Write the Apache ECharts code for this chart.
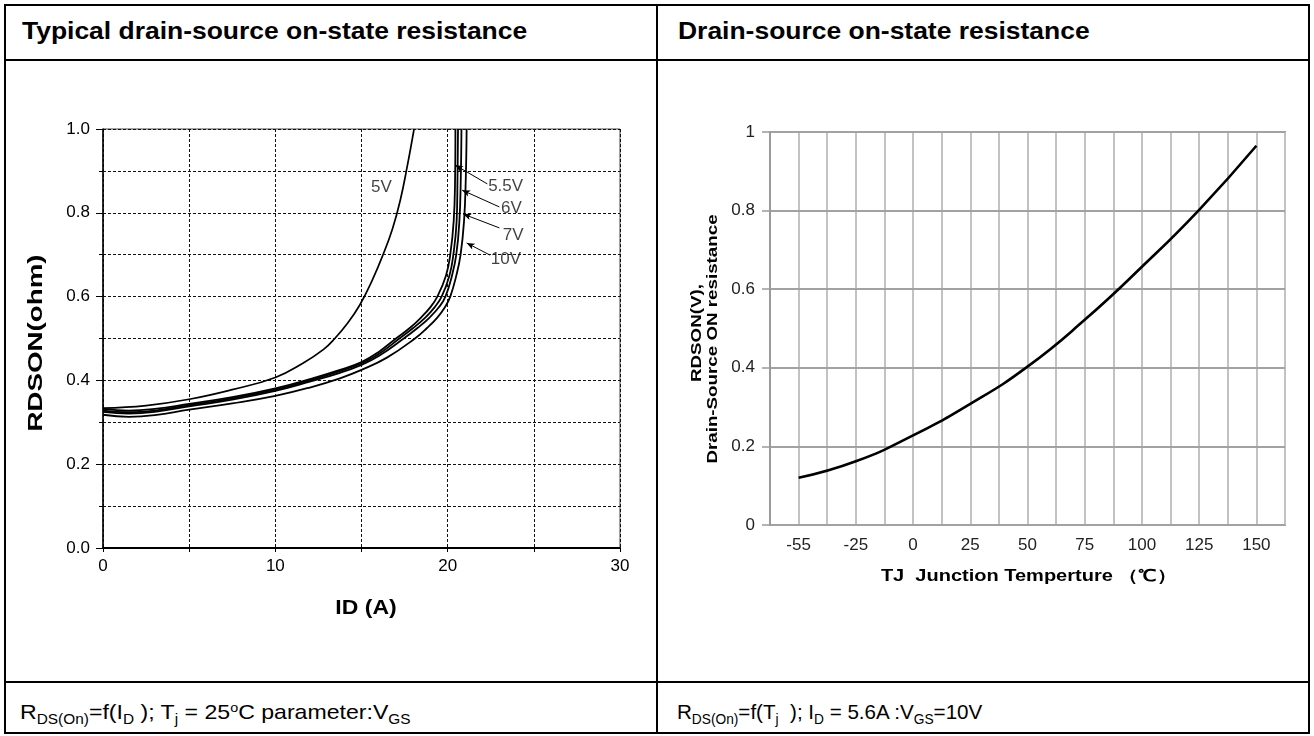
<!DOCTYPE html>
<html lang="en">
	<head>
		<meta charset="UTF-8">
		<title>RDSON curves</title>
		<script src="https://cdn.jsdelivr.net/npm/echarts@6/dist/echarts.min.js"></script>
		<style>
			body { margin: 0; background: #fff; font-family: 'Liberation Sans', Arial, sans-serif; }
			#page { position: relative; width: 1314px; height: 736px; overflow: hidden; }
			.ln { position: absolute; background: #000; }
			.head { position: absolute; top: 18px; font-size: 23px; line-height: 26px; font-weight: bold; color: #000; transform-origin: 0 50%; white-space: nowrap; }
			.foot { position: absolute; top: 700px; font-size: 21px; line-height: 24px; color: #000; transform-origin: 0 50%; white-space: nowrap; }
			.foot sub { font-size: 14px; vertical-align: -5px; line-height: 0; }
			.foot sup { font-size: 13px; vertical-align: 7px; line-height: 0; }
			#myChart { position: absolute; left: 0; top: 0; width: 1314px; height: 736px; }
		</style>
	</head>
	<body>
		<div id="page">
			<div class="ln" style="left:4px;top:4px;width:1306px;height:2px"></div>
			<div class="ln" style="left:4px;top:732px;width:1306px;height:2px"></div>
			<div class="ln" style="left:4px;top:4px;width:2px;height:730px"></div>
			<div class="ln" style="left:1308px;top:4px;width:2px;height:730px"></div>
			<div class="ln" style="left:656px;top:4px;width:2px;height:730px"></div>
			<div class="ln" style="left:4px;top:59px;width:1306px;height:2px"></div>
			<div class="ln" style="left:4px;top:681px;width:1306px;height:2px"></div>
			<div class="head" style="left:22px;transform:scaleX(1.15)">Typical drain-source on-state resistance</div>
			<div class="head" style="left:678px;transform:scaleX(1.15)">Drain-source on-state resistance</div>
			<div class="foot" style="left:20px;transform:scaleX(1.1)">R<sub>DS(On)</sub>=f(I<sub>D</sub> ); T<sub>j</sub> = 25<sup>o</sup>C parameter:V<sub>GS</sub></div>
			<div class="foot" style="left:677px;transform:scaleX(0.98)">R<sub>DS(On)</sub>=f(T<sub>j</sub> &nbsp;); I<sub>D</sub> = 5.6A :V<sub>GS</sub>=10V</div>
			<div id="myChart"></div>
		</div>
		<script type="text/javascript">
			// 左图：RDSON - ID，每条曲线为 [ID, RDSON]
			var curve5V = [[0, 0.334], [2.5, 0.34], [5, 0.355], [7.5, 0.378], [10, 0.407], [11.6, 0.441], [12.8, 0.474], [13.45, 0.5], [14.2, 0.537], [14.9, 0.58], [15.6, 0.637], [16.25, 0.7], [16.8, 0.762], [17.25, 0.83], [17.65, 0.91], [18.05, 1.0]];
			var curve5V5 = [[0, 0.332], [1.5, 0.328], [3, 0.332], [5, 0.344], [7.5, 0.36], [10, 0.381], [12, 0.403], [13.75, 0.425], [15, 0.444], [16, 0.468], [17, 0.5], [17.8, 0.525], [18.45, 0.55], [19.0, 0.575], [19.4, 0.6], [19.9, 0.65], [20.15, 0.7], [20.35, 0.78], [20.43, 0.88], [20.45, 1.0]];
			var curve6V = [[0, 0.328], [1.5, 0.324], [3, 0.328], [5, 0.341], [7.5, 0.357], [10, 0.378], [12, 0.4], [13.75, 0.422], [15, 0.441], [16, 0.463], [17.2, 0.5], [18.0, 0.525], [18.7, 0.55], [19.25, 0.575], [19.65, 0.6], [20.1, 0.65], [20.33, 0.7], [20.52, 0.78], [20.57, 0.88], [20.6, 1.0]];
			var curve7V = [[0, 0.325], [1.5, 0.321], [3, 0.325], [5, 0.338], [7.5, 0.354], [10, 0.375], [12, 0.397], [13.75, 0.418], [15, 0.437], [16, 0.458], [17.45, 0.5], [18.25, 0.525], [18.95, 0.55], [19.5, 0.575], [19.87, 0.6], [20.25, 0.65], [20.5, 0.7], [20.68, 0.78], [20.76, 0.88], [20.8, 1.0]];
			var curve10V = [[0, 0.318], [1.5, 0.313], [3, 0.317], [5, 0.33], [7.5, 0.345], [10, 0.363], [12, 0.383], [13.75, 0.405], [15, 0.425], [16.5, 0.455], [18.1, 0.5], [18.8, 0.525], [19.4, 0.55], [19.85, 0.575], [20.15, 0.6], [20.5, 0.65], [20.75, 0.7], [20.95, 0.78], [21.05, 0.88], [21.1, 1.0]];
			var curveNames = ['5V', '5.5V', '6V', '7V', '10V'];
			// 标注：文字位置 + 箭头（从曲线到文字）
			var noteText = [[15.55, 0.862], [22.35, 0.864], [23.1, 0.811], [23.2, 0.747], [22.5, 0.69]];
			var noteArrows = [
				[[20.43, 0.914], [22.3, 0.869]],
				[[20.84, 0.854], [23.0, 0.814]],
				[[20.9, 0.797], [23.0, 0.764]],
				[[21.1, 0.728], [22.46, 0.699]]
			];

			// 右图：RDSON - TJ
			var tempLabels = ['-55', '-25', '0', '25', '50', '75', '100', '125', '150'];
			var rdsTemp = [0.12, 0.162, 0.228, 0.308, 0.403, 0.522, 0.657, 0.802, 0.965];

			var dashLine = { show: true, lineStyle: { color: '#111', width: 1, type: [3, 2] } };

			var leftSeries = [curve5V, curve5V5, curve6V, curve7V, curve10V].map(function (d, i) {
				return {
					name: curveNames[i],
					type: 'line',
					xAxisIndex: 0,
					yAxisIndex: 0,
					data: d,
					smooth: 0.45,
					showSymbol: false,
					lineStyle: { color: '#000', width: i == 0 ? 1.7 : 1.8 },
					z: 3
				};
			});

			// 标注文字
			leftSeries.push({
				type: 'scatter',
				xAxisIndex: 0,
				yAxisIndex: 0,
				symbolSize: 0,
				data: noteText.map(function (p, i) {
					return { value: p, name: curveNames[i] };
				}),
				label: {
					show: true,
					position: 'right',
					distance: 0,
					formatter: '{b}',
					color: '#111',
					fontSize: 17,
					fontFamily: 'Liberation Sans'
				},
				silent: true,
				markLine: {
					silent: true,
					symbol: ['arrow', 'none'],
					symbolSize: [5, 8],
					label: { show: false },
					lineStyle: { color: '#000', width: 1, type: 'solid' },
					data: noteArrows.map(function (a) {
						return [{ coord: a[0] }, { coord: a[1] }];
					})
				}
			});

			// 轴标题（原图文字被横向拉长，用 graphic 加 scaleX）
			function axisTitle(text, x, y, size, sx, rot) {
				return {
					type: 'text',
					x: x,
					y: y,
					rotation: rot ? Math.PI / 2 : 0,
					scaleX: sx,
					silent: true,
					style: {
						text: text,
						x: 0,
						y: 0,
						align: 'center',
						verticalAlign: 'middle',
						fontSize: size,
						fontWeight: 'bold',
						fontFamily: 'Liberation Sans',
						fill: '#000'
					}
				};
			}

			var myChart = echarts.init(document.getElementById('myChart'));
			var option = {
				animation: false,
				backgroundColor: 'transparent',
				textStyle: { fontFamily: 'Liberation Sans' },
				graphic: [
					axisTitle('RDSON(ohm)', 36, 343, 21, 1.32, true),
					axisTitle('ID (A)', 366, 608, 20, 1.15, false),
					axisTitle('TJ  Junction Temperture （℃）', 1029, 577, 16, 1.25, false),
					axisTitle('RDSON(V),', 697, 333, 14, 1.34, true),
					axisTitle('Drain-Source ON resistance', 713, 339, 14, 1.34, true)
				],
				grid: [
					{ left: 103, top: 129, width: 517, height: 419, show: true, borderColor: '#444', borderWidth: 1 },
					{ left: 770, top: 132, width: 515, height: 393, show: true, borderColor: '#9a9a9a', borderWidth: 2 }
				],
				xAxis: [{
					type: 'value',
					gridIndex: 0,
					min: 0,
					max: 30,
					interval: 10,
					axisLine: { lineStyle: { color: '#000', width: 2 } },
					axisTick: { length: 4, lineStyle: { color: '#000' } },
					minorTick: { show: true, splitNumber: 2, length: 4, lineStyle: { color: '#000' } },
					axisLabel: { fontSize: 17, color: '#000', margin: 10 },
					splitLine: dashLine,
					minorSplitLine: dashLine
				}, {
					type: 'category',
					gridIndex: 1,
					data: tempLabels,
					boundaryGap: true,
					axisLine: { lineStyle: { color: '#9a9a9a', width: 2 } },
					axisTick: { length: 7, lineStyle: { color: '#9a9a9a', width: 1.5 } },
					axisLabel: { fontSize: 17, color: '#222', margin: 12 },
					splitLine: { show: false }
				}, {
					// 右图竖向网格（每半格一条）
					type: 'value',
					gridIndex: 1,
					min: 0,
					max: 18,
					interval: 1,
					axisLine: { show: false },
					axisTick: { show: false },
					axisLabel: { show: false },
					splitLine: { show: true, lineStyle: { color: '#c2c2c2', width: 2 } },
					z: 1
				}],
				yAxis: [{
					type: 'value',
					gridIndex: 0,
					min: 0,
					max: 1,
					interval: 0.2,
					axisLine: { lineStyle: { color: '#000', width: 1.5 } },
					axisTick: { length: 7, lineStyle: { color: '#000' } },
					minorTick: { show: true, splitNumber: 2, length: 4, lineStyle: { color: '#000' } },
					axisLabel: {
						fontSize: 17,
						color: '#000',
						margin: 13,
						formatter: function (v) { return v.toFixed(1); }
					},
					splitLine: dashLine,
					minorSplitLine: dashLine
				}, {
					type: 'value',
					gridIndex: 1,
					min: 0,
					max: 1,
					interval: 0.2,
					axisLine: { show: true, lineStyle: { color: '#9a9a9a', width: 2 } },
					axisTick: { show: true, length: 8, lineStyle: { color: '#9a9a9a', width: 1.5 } },
					axisLabel: { fontSize: 17, color: '#222', margin: 15 },
					splitLine: { show: true, lineStyle: { color: '#a2a2a2', width: 2 } },
					z: 2
				}],
				series: leftSeries.concat([{
					name: 'RDSON(TJ)',
					type: 'line',
					xAxisIndex: 1,
					yAxisIndex: 1,
					data: rdsTemp,
					smooth: true,
					showSymbol: false,
					lineStyle: { color: '#000', width: 2.6 },
					z: 5
				}])
			};
			myChart.setOption(option);
		</script>
	</body>
</html>
